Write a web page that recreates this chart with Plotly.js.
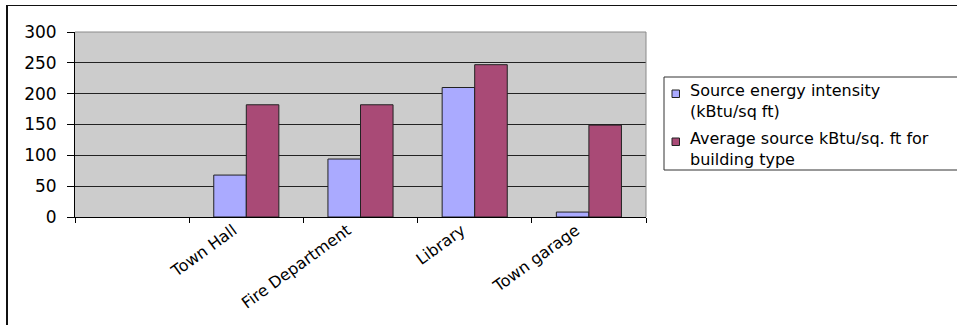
<!DOCTYPE html>
<html>
<head>
<meta charset="utf-8">
<script src="https://cdn.plot.ly/plotly-3.0.1.min.js"></script>
<style>
  html, body { margin: 0; padding: 0; background: #fff; overflow: hidden; }
  #wrap { position: relative; width: 957px; height: 325px; }
  #chart { position: absolute; left: 0; top: 0; width: 957px; height: 325px; }
  #frame { position: absolute; left: 6px; top: 5px; width: 1000px; height: 400px;
           border-left: 2px solid #111; border-top: 1px solid #111; pointer-events: none; }
</style>
</head>
<body>
<div id="wrap">
  <div id="chart"></div>
  <div id="frame"></div>
</div>
<script>
// ---- data ----
const categories = [" ", "Town Hall", "Fire Department", "Library", "Town garage"];
const sourceEnergyIntensity = [null, 68, 94, 210, 8];
const averageSourceForType = [null, 182, 182, 247, 149];
const seriesNames = [
  "Source energy intensity<br>(kBtu/sq ft)",
  "Average source kBtu/sq. ft for<br>building type"
];
const yTickValues = [0, 50, 100, 150, 200, 250, 300];

// ---- styles ----
const blueColor = "#aaaaff";
const maroonColor = "#a94a76";
const outline = "#222222";
const FONT = "DejaVu Sans, Liberation Sans, Arial, sans-serif";

// plot area in pixels
const L = 75, R = 646, T = 32, B = 217;
const W = 957, H = 325;
const px2x = p => (p - L) / (R - L);
const py2y = p => (B - p) / (B - T);

const traces = [
  {
    type: "bar", x: categories, y: sourceEnergyIntensity,
    name: seriesNames[0].replace("<br>", " "),
    marker: { color: blueColor, line: { color: outline, width: 1 } }
  },
  {
    type: "bar", x: categories, y: averageSourceForType,
    name: seriesNames[1].replace("<br>", " "),
    marker: { color: maroonColor, line: { color: outline, width: 1 } }
  }
];

// manual legend
const seriesColors = [blueColor, maroonColor];
const symbolTops = [90, 138];
const itemCenters = [100.5, 148.5];
const shapes = [
  // plot top and right border (gray)
  { type: "line", xref: "paper", yref: "paper", x0: 0, x1: 1, y0: 1, y1: 1,
    line: { color: "#8a8a8a", width: 1 }, layer: "above" },
  { type: "line", xref: "paper", yref: "paper", x0: 1, x1: 1, y0: 0, y1: 1,
    line: { color: "#8a8a8a", width: 1 }, layer: "above" },
  // legend box
  { type: "rect", xref: "paper", yref: "paper",
    x0: px2x(664), x1: px2x(1010), y0: py2y(170), y1: py2y(77),
    fillcolor: "#ffffff", line: { color: "#333333", width: 1 }, layer: "above" }
];
const annotations = [];
seriesNames.forEach((nm, i) => {
  shapes.push({ type: "rect", xref: "paper", yref: "paper",
    x0: px2x(672), x1: px2x(679.5), y0: py2y(symbolTops[i] + 7.5), y1: py2y(symbolTops[i]),
    fillcolor: seriesColors[i], line: { color: outline, width: 1 }, layer: "above" });
  annotations.push({ xref: "paper", yref: "paper", x: px2x(688), y: py2y(itemCenters[i]),
    xanchor: "left", yanchor: "middle", showarrow: false, align: "left", text: nm,
    font: { family: FONT, size: 16, color: "#000" } });
});

const layout = {
  width: W, height: H,
  margin: { l: L, r: W - R, t: T, b: H - B, pad: 0, autoexpand: false },
  paper_bgcolor: "#ffffff",
  plot_bgcolor: "#cccccc",
  showlegend: false,
  barmode: "group",
  bargap: 0.43,
  bargroupgap: 0,
  font: { family: FONT, size: 17, color: "#000" },
  xaxis: {
    type: "category",
    categoryorder: "array", categoryarray: categories,
    tickson: "boundaries",
    ticks: "outside", ticklen: 5, tickcolor: "#000", tickwidth: 1,
    showline: true, linecolor: "#000", linewidth: 1,
    showgrid: false, zeroline: false,
    tickangle: -36,
    ticklabelshift: -13,
    ticklabelstandoff: -3,
    tickfont: { family: FONT, size: 16, color: "#000" },
    fixedrange: true
  },
  yaxis: {
    range: [0, 300],
    tickvals: yTickValues,
    ticktext: yTickValues.map(String),
    ticks: "outside", ticklen: 7, tickcolor: "#000", tickwidth: 1,
    ticklabelstandoff: 7,
    showline: true, linecolor: "#000", linewidth: 1,
    showgrid: true, gridcolor: "#222222", gridwidth: 1,
    zeroline: false,
    tickfont: { family: FONT, size: 17, color: "#000" },
    fixedrange: true
  },
  shapes: shapes,
  annotations: annotations
};

Plotly.newPlot("chart", traces, layout, { staticPlot: true, displayModeBar: false });
</script>
</body>
</html>
